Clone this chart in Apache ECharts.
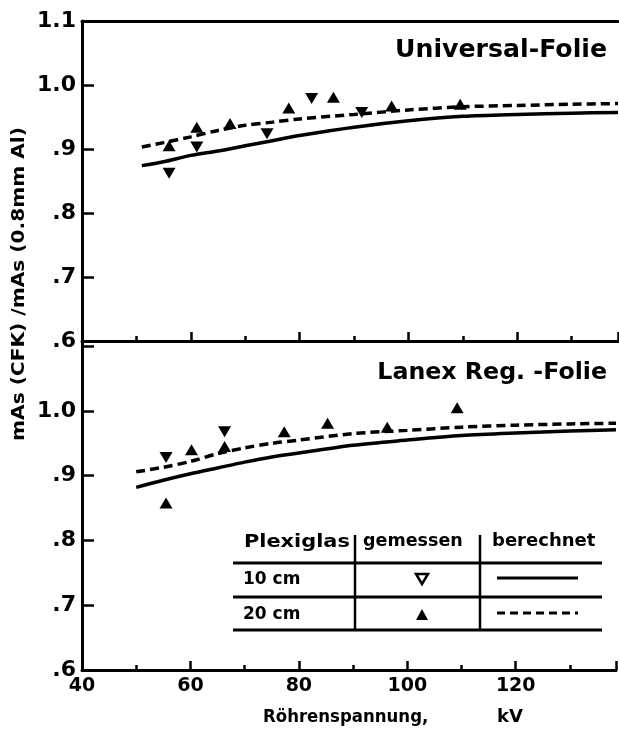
<!DOCTYPE html>
<html><head><meta charset="utf-8">
<script src="https://cdn.jsdelivr.net/npm/echarts@6/dist/echarts.min.js"></script>
<style>html,body{margin:0;padding:0;background:#fff}#c{width:619px;height:730px}</style>
</head><body><div id="c"></div>
<script>
// ---- data ----
const curveKV = [51, 55, 60, 65, 70, 75, 80, 90, 100, 110, 120, 130, 138.5];
// Universal-Folie
const uniCalc10 = [0.874, 0.880, 0.890, 0.897, 0.905, 0.913, 0.921, 0.934, 0.944, 0.951, 0.954, 0.956, 0.957];
const uniCalc20 = [0.903, 0.910, 0.919, 0.929, 0.937, 0.942, 0.947, 0.954, 0.961, 0.966, 0.968, 0.970, 0.971];
const uniMeas10KV = [56, 61.1, 74, 82.2, 91.4];
const uniMeas10 = [0.862, 0.903, 0.924, 0.979, 0.957];
const uniMeas20KV = [56, 61.1, 67.2, 78, 86.2, 96.9, 109.5];
const uniMeas20 = [0.905, 0.934, 0.940, 0.964, 0.981, 0.967, 0.970];
// Lanex Reg.-Folie
const lanCurveKV = [50, 55, 60, 65, 70, 75, 80, 90, 100, 110, 120, 130, 138.5];
const lanCalc10 = [0.882, 0.893, 0.903, 0.912, 0.921, 0.929, 0.935, 0.947, 0.955, 0.962, 0.966, 0.969, 0.971];
const lanCalc20 = [0.906, 0.913, 0.922, 0.934, 0.943, 0.950, 0.955, 0.965, 0.970, 0.975, 0.978, 0.980, 0.981];
const lanMeas10KV = [55.5, 66.3];
const lanMeas10 = [0.928, 0.968];
const lanMeas20KV = [55.5, 60.2, 66.3, 77.3, 85.3, 96.3, 109.2];
const lanMeas20 = [0.858, 0.940, 0.945, 0.968, 0.981, 0.975, 1.005];
const xTickLabels = ['40', '60', '80', '100', '120'];
const yTickLabels = {0.6: '.6', 0.7: '.7', 0.8: '.8', 0.9: '.9', 1.0: '1.0', 1.1: '1.1'};

const zip = (a, b) => a.map((v, i) => [v, b[i]]);
const FONT = 'DejaVu Sans';
const K = '#000';

function xAx(gi, showLabels) {
  return {
    type: 'value', gridIndex: gi, min: 40, max: 138.5, interval: 20,
    axisLine: {show: true, onZero: false, lineStyle: {color: K, width: 3}},
    axisTick: {show: true, inside: true, length: 9, lineStyle: {color: K, width: 2.5}},
    minorTick: {show: true, splitNumber: 2, length: 5, lineStyle: {color: K, width: 2.5}},
    splitLine: {show: false},
    axisLabel: {show: showLabels, margin: 7, color: K, fontFamily: FONT, fontWeight: 'bold', fontSize: 19,
      formatter: v => xTickLabels.indexOf(String(Math.round(v))) >= 0 && Math.abs(v - Math.round(v)) < 1e-6 ? String(v) : ''}
  };
}
function yAx(gi, max) {
  return {
    type: 'value', gridIndex: gi, min: 0.6, max: max, interval: 0.1,
    axisLine: {show: true, onZero: false, lineStyle: {color: K, width: 3}},
    axisTick: {show: true, inside: true, length: 12, lineStyle: {color: K, width: 2.5}},
    splitLine: {show: false},
    axisLabel: {margin: 6, color: K, fontFamily: FONT, fontWeight: 'bold', fontSize: 22,
      showMaxLabel: gi === 0,
      formatter: v => { const k = Math.round(v * 10) / 10; if (Math.abs(v - k) > 1e-6) return ''; if (gi === 1 && k > 1.05) return ''; return yTickLabels[k] || ''; }}
  };
}
function lineS(xi, data, dashed) {
  return {type: 'line', xAxisIndex: xi, yAxisIndex: xi, data: data, smooth: 0.3, symbol: 'none',
    lineStyle: {color: K, width: 3.5, type: dashed ? [9, 5] : 'solid'}, silent: true, z: 2};
}
function ptS(xi, data, down) {
  return {type: 'scatter', xAxisIndex: xi, yAxisIndex: xi, data: data, symbol: 'triangle',
    symbolSize: [13, 11], symbolRotate: down ? 180 : 0, itemStyle: {color: K, opacity: 1}, z: 3};
}
function txt(x, y, s, size, align, sx, extra) {
  return Object.assign({type: 'text', x: x, y: y, scaleX: sx || 1,
    style: {text: s, align: align, verticalAlign: 'middle', fill: K, font: 'bold ' + size + 'px "DejaVu Sans"'}}, extra || {});
}

const chart = echarts.init(document.getElementById('c'), null, {renderer: 'canvas'});
chart.setOption({
  animation: false,
  backgroundColor: '#fff',
  grid: [
    {left: 82, top: 21, width: 536, height: 320},
    {left: 82, top: 341, width: 536, height: 329}
  ],
  xAxis: [
    xAx(0, false), xAx(1, true),
    {type: 'value', gridIndex: 0, position: 'top', min: 40, max: 138.5,
      axisLine: {show: true, lineStyle: {color: K, width: 3}}, axisTick: {show: false}, axisLabel: {show: false}, splitLine: {show: false}}
  ],
  yAxis: [yAx(0, 1.1), yAx(1, 1.108)],
  series: [
    lineS(0, zip(curveKV, uniCalc10), false),
    lineS(0, zip(curveKV, uniCalc20), true),
    ptS(0, zip(uniMeas10KV, uniMeas10), true),
    ptS(0, zip(uniMeas20KV, uniMeas20), false),
    lineS(1, zip(lanCurveKV, lanCalc10), false),
    lineS(1, zip(lanCurveKV, lanCalc20), true),
    ptS(1, zip(lanMeas10KV, lanMeas10), true),
    ptS(1, zip(lanMeas20KV, lanMeas20), false)
  ],
  graphic: [
    txt(607, 51, 'Universal-Folie', 24, 'right', 1.05),
    txt(607, 373, 'Lanex Reg. -Folie', 23, 'right', 1.03),
    txt(19, 284, 'mAs (CFK) /mAs (0.8mm Al)', 18, 'center', 1.12, {rotation: Math.PI / 2}),
    txt(263, 717, 'Röhrenspannung,', 18, 'left', 0.92),
    txt(510, 717, 'kV', 18, 'center', 1),
    // legend table
    txt(244, 542, 'Plexiglas', 18, 'left', 1.16),
    txt(363, 542, 'gemessen', 17, 'left', 1.03),
    txt(492, 542, 'berechnet', 17, 'left', 1.06),
    txt(243, 580, '10 cm', 17, 'left', 1),
    txt(243, 615, '20 cm', 17, 'left', 1),
    {type: 'line', shape: {x1: 233, y1: 563, x2: 602, y2: 563}, style: {stroke: K, lineWidth: 3}},
    {type: 'line', shape: {x1: 233, y1: 597, x2: 602, y2: 597}, style: {stroke: K, lineWidth: 3}},
    {type: 'line', shape: {x1: 233, y1: 630, x2: 602, y2: 630}, style: {stroke: K, lineWidth: 3}},
    {type: 'line', shape: {x1: 355, y1: 535, x2: 355, y2: 630}, style: {stroke: K, lineWidth: 2.5}},
    {type: 'line', shape: {x1: 480, y1: 535, x2: 480, y2: 630}, style: {stroke: K, lineWidth: 2.5}},
    {type: 'polygon', shape: {points: [[416, 574], [428, 574], [422, 584]]}, style: {fill: '#fff', stroke: K, lineWidth: 2.5}},
    {type: 'polygon', shape: {points: [[416, 620], [428, 620], [422, 609]]}, style: {fill: K}},
    {type: 'line', shape: {x1: 497, y1: 578, x2: 578, y2: 578}, style: {stroke: K, lineWidth: 3}},
    {type: 'line', shape: {x1: 497, y1: 613, x2: 578, y2: 613}, style: {stroke: K, lineWidth: 3, lineDash: [8, 5]}}
  ]
});
</script></body></html>
